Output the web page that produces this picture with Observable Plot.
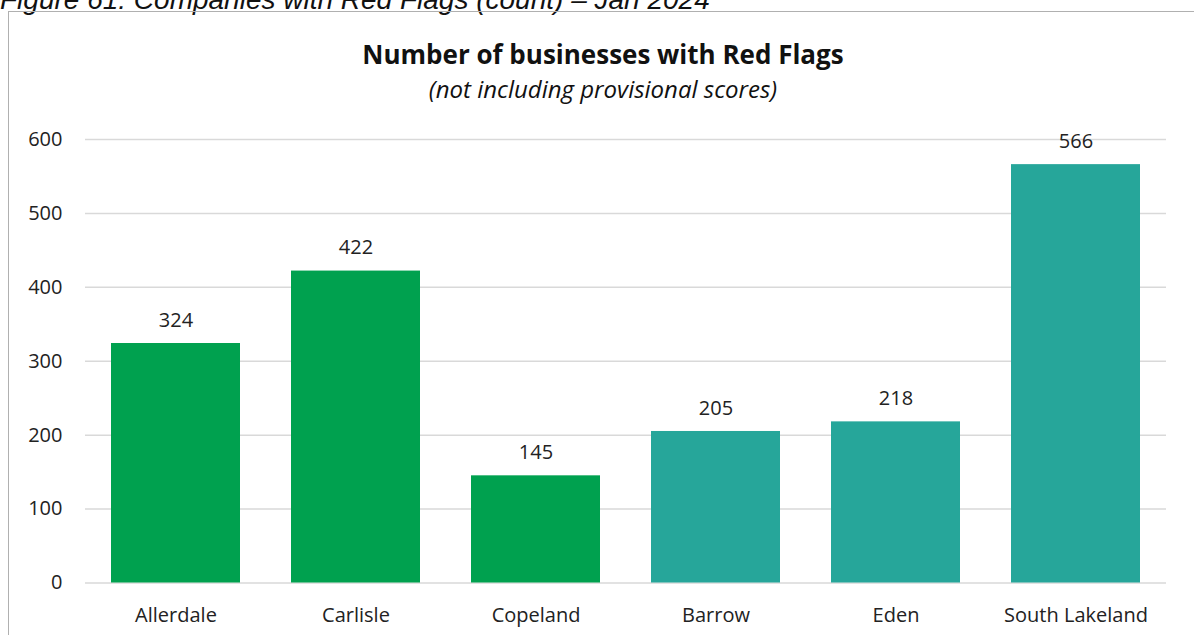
<!DOCTYPE html>
<html>
<head>
<meta charset="utf-8">
<script src="https://cdn.jsdelivr.net/npm/d3@7"></script>
<script src="https://cdn.jsdelivr.net/npm/@observablehq/plot@0.6"></script>
<style>
  html, body { margin: 0; padding: 0; background: #fff; overflow: hidden; }
  #page { position: relative; width: 1194px; height: 635px; overflow: hidden; }
  #caption {
    position: absolute; left: 0; top: -14px; white-space: nowrap;
    font-family: "Liberation Sans", Arial, sans-serif; font-style: italic;
    font-size: 28px; line-height: 28px; color: #111;
  }
  #frame {
    position: absolute; left: 8px; top: 11px; width: 1300px; height: 700px;
    border-left: 1px solid #b0b0b0; border-top: 1px solid #b0b0b0;
  }
  .heading {
    position: absolute; left: 0; width: 1206px; text-align: center; white-space: nowrap;
    font-family: "Open Sans", sans-serif; color: #111;
  }
  #title { top: 41px; font-size: 26px; line-height: 26px; font-weight: 700; }
  #subtitle { top: 77px; font-size: 24px; line-height: 24px; font-style: italic; }
  #chart { position: absolute; left: 0; top: 105px; }
</style>
</head>
<body>
<div id="page">
  <div id="caption">Figure 61: Companies with Red Flags (count) – Jan 2024</div>
  <div id="frame"></div>
  <div id="title" class="heading">Number of businesses with Red Flags</div>
  <div id="subtitle" class="heading">(not including provisional scores)</div>
  <div id="chart"></div>
</div>
<script>
// Former Cumbria districts and their count of businesses with Red Flags
const districts = ["Allerdale", "Carlisle", "Copeland", "Barrow", "Eden", "South Lakeland"];
const redFlagCounts = [324, 422, 145, 205, 218, 566];
// New unitary authority each district now belongs to
const authorities = ["Cumberland", "Cumberland", "Cumberland",
  "Westmorland and Furness", "Westmorland and Furness", "Westmorland and Furness"];
const authorityNames = ["Cumberland", "Westmorland and Furness"];
const yTicks = [0, 100, 200, 300, 400, 500, 600];

const rows = districts.map((district, i) => ({
  district,
  count: redFlagCounts[i],
  authority: authorities[i]
}));

const chart = Plot.plot({
  width: 1194,
  height: 530,
  marginLeft: 85,
  marginRight: 28,
  marginTop: 34,
  marginBottom: 52.5,
  style: { fontFamily: "'Open Sans', sans-serif", fontSize: "20px", color: "#222", background: "transparent" },
  x: { domain: districts, paddingInner: 0.284, paddingOuter: 0.142, label: null },
  y: { domain: [0, 600], label: null },
  color: { domain: authorityNames, range: ["#00A14F", "#26A69A"] },
  marks: [
    Plot.ruleY(yTicks, { stroke: "#d9d9d9", strokeWidth: 1.5 }),
    Plot.barY(rows, { x: "district", y: "count", fill: "authority" }),
    Plot.text(rows, { x: "district", y: "count", text: d => String(d.count), dy: -23, fontSize: 20, fill: "#222" }),
    Plot.axisY({ ticks: yTicks, tickSize: 0, tickPadding: 23, fontSize: 20, label: null }),
    Plot.axisX({ tickSize: 0, tickPadding: 25, fontSize: 20, label: null })
  ]
});
document.getElementById("chart").appendChild(chart);
</script>
</body>
</html>
